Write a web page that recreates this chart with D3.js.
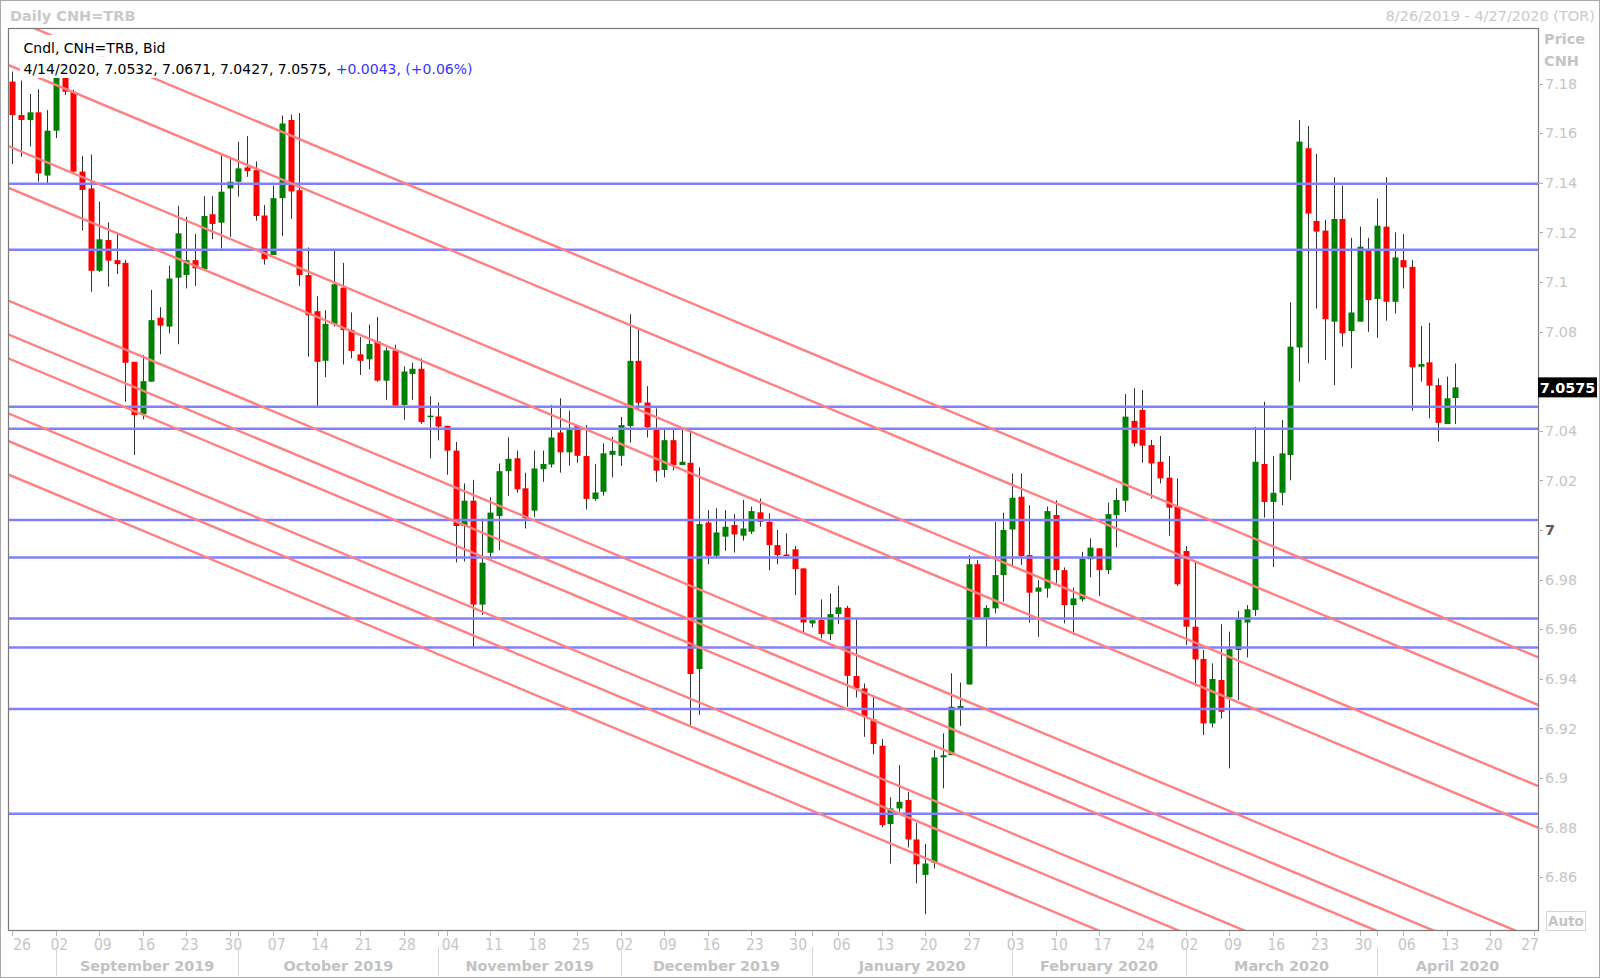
<!DOCTYPE html>
<html><head><meta charset="utf-8">
<script src="https://cdn.jsdelivr.net/npm/d3@7"></script>
<style>
html,body{margin:0;padding:0;background:#fff;}
svg{display:block;}
</style></head><body>
<svg id="chart" width="1600" height="978"></svg>
<script>
// ---- DATA ----
const firstDate = "2019-08-26";
const lastDate = "2020-04-27";
const openP = [7.1808,7.1673,7.1653,7.1684,7.1429,7.1610,7.1860,7.1767,7.1445,7.1377,
 7.1045,7.1169,7.1088,7.1077,7.0678,7.0467,7.0598,7.0856,7.0820,7.1017,
 7.1028,7.1088,7.1052,7.1273,7.1239,7.1377,7.1404,7.1462,7.1451,7.1268,
 7.1109,7.1338,7.1653,7.1370,7.1028,7.0882,7.0682,7.0831,7.0977,7.0806,
 7.0708,7.0688,7.0761,7.0602,7.0724,7.0504,7.0629,7.0650,7.0458,7.0458,
 7.0420,7.0320,7.0016,7.0118,6.9699,6.9908,7.0056,7.0237,7.0289,7.0168,
 7.0078,7.0245,7.0264,7.0393,7.0313,7.0419,7.0298,7.0125,7.0154,7.0303,
 7.0299,7.0419,7.0682,7.0514,7.0403,7.0242,7.0362,7.0262,7.0271,6.9439,
 7.0030,6.9896,6.9973,7.0020,6.9977,6.9993,7.0071,7.0033,6.9939,6.9901,
 6.9922,6.9845,6.9623,6.9637,6.9580,6.9661,6.9686,6.9411,6.9361,6.9236,
 6.9130,6.8814,6.8877,6.8911,6.8752,6.8609,6.8658,6.9083,6.9092,6.9280,
 6.9377,6.9862,6.9647,6.9684,6.9818,7.0002,7.0134,6.9899,6.9751,6.9764,
 7.0060,6.9838,6.9697,6.9720,6.9882,6.9926,6.9838,7.0060,7.0118,7.0440,
 7.0484,7.0342,7.0275,7.0211,7.0094,6.9915,6.9610,6.9480,6.9220,6.9395,
 6.9325,6.9516,6.9627,6.9677,7.0266,7.0113,7.0150,7.0302,7.0736,7.1539,
 7.1246,7.1207,7.0840,7.1254,7.0802,7.0840,7.1125,7.0931,7.1223,7.0920,
 7.1088,7.1061,7.0658,7.0676,7.0584,7.0427,7.0532];
const highP = [7.1848,7.1812,7.1758,7.1777,7.1693,7.1880,7.1880,7.1775,7.1508,7.1514,
 7.1324,7.1240,7.1193,7.1088,7.0678,7.0705,7.0968,7.0898,7.1066,7.1307,
 7.1263,7.1193,7.1346,7.1346,7.1512,7.1498,7.1565,7.1588,7.1486,7.1310,
 7.1389,7.1671,7.1675,7.1681,7.1139,7.0942,7.0886,7.1125,7.1077,7.0877,
 7.0778,7.0828,7.0859,7.0736,7.0747,7.0660,7.0675,7.0692,7.0539,7.0514,
 7.0420,7.0355,7.0188,7.0202,7.0046,7.0132,7.0268,7.0373,7.0320,7.0231,
 7.0320,7.0320,7.0504,7.0531,7.0481,7.0423,7.0423,7.0266,7.0349,7.0376,
 7.0456,7.0870,7.0808,7.0580,7.0490,7.0403,7.0403,7.0403,7.0403,7.0252,
 7.0080,7.0087,7.0080,7.0064,7.0121,7.0094,7.0127,7.0067,7.0000,6.9986,
 6.9935,6.9845,6.9636,6.9720,6.9744,6.9775,6.9694,6.9639,6.9381,6.9334,
 6.9157,6.8922,6.9052,6.8944,6.8819,6.8734,6.9112,6.9180,6.9422,6.9385,
 6.9899,6.9879,6.9697,7.0033,7.0070,7.0228,7.0228,7.0100,6.9798,7.0094,
 7.0120,6.9849,6.9768,6.9912,6.9966,6.9926,7.0110,7.0168,7.0548,7.0571,
 7.0564,7.0363,7.0379,7.0298,7.0208,6.9935,6.9872,6.9516,6.9462,6.9620,
 6.9590,6.9674,6.9697,7.0416,7.0517,7.0298,7.0443,7.0918,7.1653,7.1629,
 7.1516,7.1250,7.1422,7.1388,7.1178,7.1223,7.1178,7.1337,7.1422,7.1200,
 7.1193,7.1088,7.0823,7.0835,7.0611,7.0618,7.0671];
const lowP = [7.1476,7.1505,7.1546,7.1404,7.1395,7.1580,7.1754,7.1440,7.1207,7.0961,
 7.1040,7.0981,7.1032,7.0517,7.0302,7.0446,7.0598,7.0708,7.0793,7.0749,
 7.0974,7.0984,7.1052,7.1172,7.1135,7.1182,7.1344,7.1424,7.1247,7.1070,
 7.1109,7.1185,7.1254,7.0984,7.0699,7.0500,7.0616,7.0820,7.0667,7.0692,
 7.0625,7.0648,7.0598,7.0525,7.0501,7.0445,7.0525,7.0428,7.0289,7.0361,
 7.0223,6.9869,6.9873,6.9530,6.9657,6.9887,6.9918,7.0137,7.0150,7.0006,
 7.0053,7.0194,7.0252,7.0231,7.0259,7.0271,7.0083,7.0118,7.0138,7.0212,
 7.0258,7.0352,7.0481,7.0373,7.0194,7.0212,7.0241,7.0262,6.9213,6.9254,
 6.9862,6.9890,6.9916,6.9909,6.9957,6.9984,7.0013,6.9838,6.9862,6.9897,
 6.9737,6.9580,6.9607,6.9563,6.9556,6.9621,6.9287,6.9325,6.9166,6.9096,
 6.8801,6.8655,6.8864,6.8720,6.8575,6.8451,6.8635,6.8958,6.9092,6.9210,
 6.9377,6.9640,6.9529,6.9664,6.9711,6.9852,6.9859,6.9626,6.9569,6.9727,
 6.9785,6.9623,6.9576,6.9711,6.9809,6.9734,6.9822,6.9930,7.0074,7.0336,
 7.0271,7.0127,7.0188,6.9977,6.9774,6.9536,6.9371,6.9173,6.9204,6.9240,
 6.9039,6.9314,6.9486,6.9653,7.0050,6.9850,7.0100,7.0200,7.0598,7.0672,
 7.0893,7.0685,7.0584,7.0739,7.0652,7.0840,7.0799,7.0775,7.0844,7.0873,
 7.0974,7.0481,7.0598,7.0450,7.0356,7.0427,7.0427];
const closeP = [7.1673,7.1653,7.1684,7.1438,7.1610,7.1860,7.1767,7.1445,7.1371,7.1045,
 7.1172,7.1086,7.1072,7.0674,7.0463,7.0600,7.0846,7.0824,7.1014,7.1196,
 7.1088,7.1055,7.1266,7.1234,7.1364,7.1404,7.1458,7.1447,7.1266,7.1092,
 7.1338,7.1639,7.1365,7.1028,7.0866,7.0678,7.0831,7.0991,7.0806,7.0722,
 7.0682,7.0750,7.0602,7.0724,7.0501,7.0639,7.0650,7.0435,7.0461,7.0417,
 7.0320,7.0016,7.0118,6.9699,6.9868,7.0070,7.0237,7.0287,7.0164,7.0047,
 7.0248,7.0266,7.0373,7.0313,7.0403,7.0299,7.0125,7.0151,7.0309,7.0319,
 7.0423,7.0682,7.0513,7.0414,7.0239,7.0362,7.0262,7.0275,6.9419,7.0024,
 6.9896,6.9990,7.0013,6.9982,7.0006,7.0076,7.0033,6.9939,6.9899,6.9899,
 6.9842,6.9627,6.9636,6.9580,6.9661,6.9688,6.9412,6.9361,6.9247,6.9137,
 6.8810,6.8877,6.8904,6.8752,6.8652,6.8655,6.9083,6.9092,6.9287,6.9290,
 6.9862,6.9647,6.9686,6.9818,7.0000,7.0130,6.9895,6.9747,6.9768,7.0076,
 6.9838,6.9697,6.9724,6.9885,6.9929,6.9838,7.0064,7.0121,7.0457,7.0349,
 7.0340,7.0268,7.0208,7.0090,6.9781,6.9610,6.9478,6.9220,6.9399,6.9267,
 6.9519,6.9639,6.9680,7.0275,7.0113,7.0150,7.0309,7.0739,7.1566,7.1276,
 7.1203,7.0850,7.1254,7.0793,7.0877,7.1142,7.0927,7.1227,7.0920,7.1099,
 7.1059,7.0656,7.0669,7.0582,7.0432,7.0531,7.0575];
// horizontal support / resistance levels (blue)
const levels = [7.1396, 7.1130, 7.0497, 7.0408, 7.0040, 6.9889, 6.9643, 6.9526, 6.9278, 6.8856];
// parallel descending lines (red): price at first date and at last date of axis
const channelStart = [7.2060, 7.1868, 7.1541, 7.1373, 7.0918, 7.0782, 7.0685, 7.0463, 7.0352, 7.0217];
const channelEnd   = [6.9494, 6.9302, 6.8975, 6.8807, 6.8354, 6.8216, 6.8119, 6.7897, 6.7786, 6.7651];
const yTicks = [6.86, 6.88, 6.90, 6.92, 6.94, 6.96, 6.98, 7.00, 7.02, 7.04, 7.06, 7.08, 7.10, 7.12, 7.14, 7.16, 7.18];
const lastPrice = 7.0575;
const legendRow1 = "Cndl, CNH=TRB, Bid";
const legendRow2a = "4/14/2020, 7.0532, 7.0671, 7.0427, 7.0575, ";
const legendRow2b = "+0.0043, (+0.06%)";
const titleLeft = "Daily CNH=TRB";
const titleRight = "8/26/2019 - 4/27/2020 (TOR)";

// ---- LAYOUT ----
const W = 1600, H = 978;
const plot = {l: 8, t: 28, r: 1538, b: 930};
const svg = d3.select("#chart");
const parse = d3.timeParse("%Y-%m-%d");
const fmtKey = d3.timeFormat("%Y-%m-%d");
const days = d3.timeDay.range(parse(firstDate), d3.timeDay.offset(parse(lastDate), 1))
  .filter(d => d.getDay() !== 0 && d.getDay() !== 6);

const x = d3.scaleBand().domain(days.map(fmtKey)).range([plot.l, plot.r]).padding(0);
const bw = x.bandwidth();
const cx = d => x(fmtKey(d)) + bw / 2;
const xi = d3.scaleLinear().domain([0, days.length - 1]).range([cx(days[0]), cx(days[days.length - 1])]);
const y = d3.scaleLinear().domain([6.8387, 7.2024]).range([plot.b, plot.t]);

const data = openP.map((o, i) => ({date: days[i], o, h: highP[i], l: lowP[i], c: closeP[i]}));

// outer frame
svg.append("rect").attr("x", 0.5).attr("y", 0.5).attr("width", W - 1).attr("height", H - 1)
  .attr("fill", "#fff").attr("stroke", "#a8a8a8");

svg.append("defs").append("clipPath").attr("id", "clip")
  .append("rect").attr("x", plot.l).attr("y", plot.t).attr("width", plot.r - plot.l).attr("height", plot.b - plot.t);

const g = svg.append("g").attr("clip-path", "url(#clip)");

// candles
const cg = g.append("g");
cg.selectAll("line.wick").data(data).join("line").attr("class", "wick")
  .attr("x1", d => Math.round(cx(d.date)) + 0.5).attr("x2", d => Math.round(cx(d.date)) + 0.5)
  .attr("y1", d => y(d.h)).attr("y2", d => y(d.l))
  .attr("stroke", "#333").attr("stroke-width", 1);
cg.selectAll("rect.body").data(data).join("rect").attr("class", "body")
  .attr("x", d => Math.round(cx(d.date)) - 2.5)
  .attr("width", 6)
  .attr("y", d => y(Math.max(d.o, d.c)))
  .attr("height", d => Math.max(1.5, Math.abs(y(d.o) - y(d.c))))
  .attr("fill", d => d.c >= d.o ? "#008000" : "#ff0000");

// horizontal levels
g.selectAll("line.level").data(levels).join("line").attr("class", "level")
  .attr("x1", plot.l).attr("x2", plot.r)
  .attr("y1", d => y(d)).attr("y2", d => y(d))
  .attr("stroke", "#8080ff").attr("stroke-width", 2.4);

// descending parallel lines
const n = days.length - 1;
const chanLines = channelStart.map((s, k) => ({s, e: channelEnd[k]}));
const priceAt = (ln, idx) => ln.s + (ln.e - ln.s) * idx / n;
g.selectAll("line.chan").data(chanLines).join("line").attr("class", "chan")
  .attr("x1", xi(-3)).attr("x2", xi(n + 3))
  .attr("y1", d => y(priceAt(d, -3))).attr("y2", d => y(priceAt(d, n + 3)))
  .attr("stroke", "#ff8080").attr("stroke-width", 2.4);

// legend with white background
const FONT = "'DejaVu Sans', Verdana, sans-serif";
const leg = svg.append("g");
const bg1 = leg.append("rect").attr("fill", "#fff");
const bg2 = leg.append("rect").attr("fill", "#fff");
const t1 = leg.append("text").attr("x", 23.5).attr("y", 52.5).attr("font-family", FONT).attr("font-size", 14.0)
  .attr("fill", "#000").text(legendRow1);
const t2 = leg.append("text").attr("x", 23.5).attr("y", 74).attr("font-family", FONT).attr("font-size", 14.0)
  .attr("fill", "#000");
t2.append("tspan").text(legendRow2a);
t2.append("tspan").attr("fill", "#3535ff").text(legendRow2b);
const b1 = t1.node().getBBox(), b2 = t2.node().getBBox();
bg1.attr("x", 20).attr("y", 35).attr("width", b1.width + 7).attr("height", 21.5);
bg2.attr("x", 20).attr("y", 56.5).attr("width", b2.width + 7).attr("height", 21.5);

// plot border
svg.append("rect").attr("x", plot.l + 0.5).attr("y", plot.t + 0.5)
  .attr("width", plot.r - plot.l).attr("height", plot.b - plot.t)
  .attr("fill", "none").attr("stroke", "#7a7a7a").attr("stroke-width", 1.2);

// titles
svg.append("text").attr("x", 10).attr("y", 20.5).attr("font-family", FONT).attr("font-weight", "bold")
  .attr("font-size", 14.5).attr("fill", "#c9c9c9").text(titleLeft);
svg.append("text").attr("x", 1595).attr("y", 20.5).attr("text-anchor", "end").attr("font-family", FONT)
  .attr("font-size", 14.5).attr("fill", "#cfc9c7").text(titleRight);

// y axis (right); the label under the last-price tag is covered in the original
const visibleTicks = yTicks.filter(v => Math.abs(y(v) - y(lastPrice)) > 14);
const yAx = svg.append("g");
yAx.selectAll("line").data(yTicks).join("line")
  .attr("x1", plot.r).attr("x2", plot.r + 5).attr("y1", d => Math.round(y(d)) + 0.5).attr("y2", d => Math.round(y(d)) + 0.5)
  .attr("stroke", "#b0b0b0");
yAx.selectAll("text").data(visibleTicks).join("text")
  .attr("x", 1545).attr("y", d => y(d)).attr("dy", "0.36em")
  .attr("font-family", FONT).attr("font-size", 14.4)
  .attr("font-weight", d => Math.abs(d - 7) < 1e-9 ? "bold" : "normal")
  .attr("fill", d => Math.abs(d - 7) < 1e-9 ? "#5a5a5a" : "#c4c4c4")
  .text(d => String(+d.toFixed(2)));
svg.append("text").attr("x", 1544).attr("y", 44).attr("font-family", FONT).attr("font-weight", "bold")
  .attr("font-size", 14.5).attr("fill", "#c4c4c4").text("Price");
svg.append("text").attr("x", 1544).attr("y", 66).attr("font-family", FONT).attr("font-weight", "bold")
  .attr("font-size", 14.5).attr("fill", "#c4c4c4").text("CNH");

// last price tag
svg.append("rect").attr("x", plot.r).attr("y", y(lastPrice) - 10).attr("width", 59).attr("height", 20).attr("fill", "#000");
svg.append("text").attr("x", plot.r + 29.5).attr("y", y(lastPrice)).attr("dy", "0.36em").attr("text-anchor", "middle")
  .attr("font-family", FONT).attr("font-weight", "bold").attr("font-size", 14.4).attr("fill", "#fff")
  .text(lastPrice.toFixed(4));

// Auto box
svg.append("rect").attr("x", 1546.5).attr("y", 911.5).attr("width", 39).attr("height", 19)
  .attr("fill", "#fff").attr("stroke", "#d4d4d4");
svg.append("text").attr("x", 1566).attr("y", 921).attr("dy", "0.36em").attr("text-anchor", "middle")
  .attr("font-family", FONT).attr("font-weight", "bold").attr("font-size", 13.5).attr("fill", "#c4c4c4").text("Auto");

// x axis: weekly ticks (Mondays) + month starts
const mondays = days.filter(d => d.getDay() === 1);
const monthStarts = days.filter((d, i) => i > 0 && d.getMonth() !== days[i - 1].getMonth());
const xAx = svg.append("g");
xAx.selectAll("line.tk").data(mondays.concat(monthStarts)).join("line").attr("class", "tk")
  .attr("x1", d => Math.round(cx(d)) + 0.5).attr("x2", d => Math.round(cx(d)) + 0.5)
  .attr("y1", plot.b + 1).attr("y2", plot.b + 6).attr("stroke", "#b8b8b8");
const NARROW = "'Liberation Sans Narrow', 'DejaVu Sans Condensed', 'Arial Narrow', sans-serif";
xAx.selectAll("text.day").data(mondays).join("text").attr("class", "day")
  .attr("x", d => Math.min(Math.max(cx(d) + 3.5, plot.l + 14), plot.r - 8))
  .attr("y", 950).attr("text-anchor", "middle")
  .attr("font-family", NARROW).attr("font-size", 15.5).attr("fill", "#c6c6c6")
  .text(d3.timeFormat("%d"));
// month separators & labels
xAx.selectAll("line.sep").data(monthStarts).join("line").attr("class", "sep")
  .attr("x1", d => Math.round(cx(d)) + 0.5).attr("x2", d => Math.round(cx(d)) + 0.5)
  .attr("y1", 947).attr("y2", 976).attr("stroke", "#d6d6d6");
const monthSpans = monthStarts.map((d, k) => ({
  d, a: cx(d), b: k + 1 < monthStarts.length ? cx(monthStarts[k + 1]) : plot.r
}));
xAx.selectAll("text.month").data(monthSpans).join("text").attr("class", "month")
  .attr("x", s => (s.a + s.b) / 2).attr("y", 970.5).attr("text-anchor", "middle")
  .attr("font-family", FONT).attr("font-weight", "bold").attr("font-size", 14.4).attr("fill", "#c2c2c2")
  .text(s => d3.timeFormat("%B %Y")(s.d));
</script>
</body></html>
